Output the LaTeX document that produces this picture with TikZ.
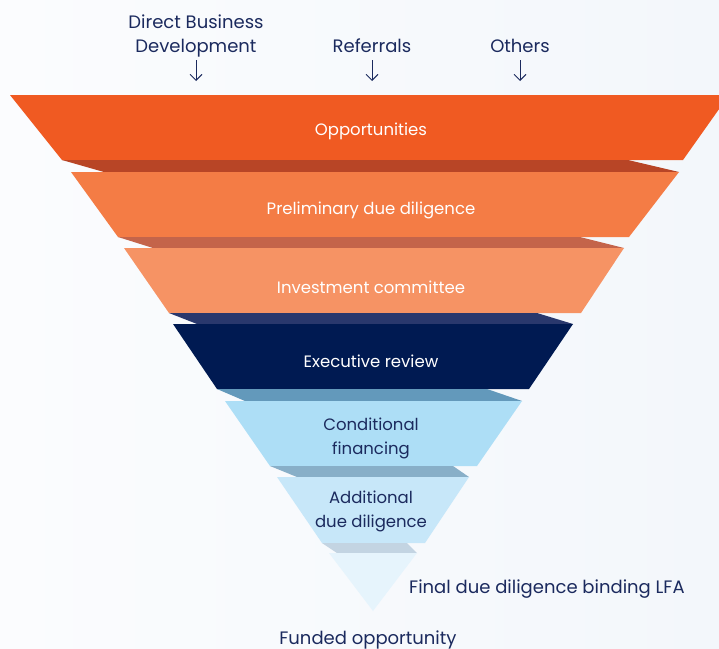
\documentclass[tikz,border=0pt]{standalone}
\usepackage{fontspec}
\setmainfont{Poppins}
\usetikzlibrary{arrows.meta}

\definecolor{inknavy}{HTML}{1B2A5E}
\definecolor{pagel}{HTML}{FBFCFE}
\definecolor{pager}{HTML}{F3F7FB}
\definecolor{oppfill}{HTML}{F05A22}
\definecolor{opplip}{HTML}{B84526}
\definecolor{prefill}{HTML}{F47C45}
\definecolor{prelip}{HTML}{C4644A}
\definecolor{invfill}{HTML}{F69364}
\definecolor{invlip}{HTML}{29386D}
\definecolor{exefill}{HTML}{001A52}
\definecolor{exelip}{HTML}{6399BB}
\definecolor{confill}{HTML}{ADDEF6}
\definecolor{conlip}{HTML}{88AFC8}
\definecolor{addfill}{HTML}{C7E7F9}
\definecolor{addlip}{HTML}{C3D4E2}
\definecolor{finfill}{HTML}{E6F4FC}

\tikzset{
  lbl/.style={font=\fontsize{18}{24}\selectfont, text=inknavy, align=center, inner sep=0pt},
  inband/.style={lbl, font=\fontsize{16.5}{24}\selectfont},
  onband/.style={inband, text=white},
  srcnode/.style={lbl, text depth=4pt},
  srcarrow/.style={-{Straight Barb[length=6pt,width=12pt]}, line width=0.9pt, draw=inknavy},
}

\begin{document}
\begin{tikzpicture}[x=1pt,y=-1pt]
  \shade[left color=pagel, right color=pager] (0,0) rectangle (719,648);
  \useasboundingbox (0,0) rectangle (719,648);
  \clip (0,0) rectangle (719,648);

  %%% sources
  \node[srcnode] (dbd) at (196,36) {Direct Business\\Development};
  \node[srcnode, anchor=base] (ref) at (372,52) {Referrals};
  \node[srcnode, anchor=base] (oth) at (520,52) {Others};
  \coordinate (dbdin) at (196,81);
  \coordinate (refin) at (372,81);
  \coordinate (othin) at (520,81);
  \draw[srcarrow] (dbd.south |- 0,60) -- (dbdin);
  \draw[srcarrow] (ref.south |- 0,60) -- (refin);
  \draw[srcarrow] (oth.south |- 0,60) -- (othin);

  %%% funnel, top to bottom
  \fill[oppfill] (10,95) -- (729,95) -- (683,160) -- (62,160) -- cycle;
  \fill[opplip] (62,160) -- (628,160) -- (679,172) -- (104,172) -- cycle;

  \fill[prefill] (71,172) -- (679,172) -- (629,237) -- (118,237) -- cycle;
  \fill[prelip] (118,237) -- (580,237) -- (624,248) -- (153,248) -- cycle;

  \fill[invfill] (124,248) -- (624,248) -- (581,313) -- (169,313) -- cycle;
  \fill[invlip] (169,313) -- (537,313) -- (573,324) -- (197,324) -- cycle;

  \fill[exefill] (173,324) -- (573,324) -- (529,389) -- (217,389) -- cycle;
  \fill[exelip] (217,389) -- (487,389) -- (522,401) -- (245,401) -- cycle;

  \fill[confill] (225,401) -- (522,401) -- (477,466) -- (270,466) -- cycle;
  \fill[conlip] (270,466) -- (453,466) -- (469,477) -- (297,477) -- cycle;

  \fill[addfill] (277,477) -- (469,477) -- (425,543) -- (322,543) -- cycle;
  \fill[addlip] (322,543) -- (407,543) -- (417,553) -- (337,553) -- cycle;

  \fill[finfill] (329,553) -- (417,553) -- (373,611) -- cycle;

  %%% stage names
  \node[onband] (opp) at (371,131) {Opportunities};
  \node[onband] (pre) at (371,210) {Preliminary due diligence};
  \node[onband] (inv) at (371,287) {Investment committee};
  \node[onband] (exe) at (371,361) {Executive review};
  \node[inband] (con) at (371,438) {Conditional\\financing};
  \node[inband] (add) at (371,511) {Additional\\due diligence};
  \node[lbl, anchor=west] (fin) at (409,589) {Final due diligence binding LFA};
  \node[lbl] (fund) at (368,640) {Funded opportunity};
\end{tikzpicture}
\end{document}
